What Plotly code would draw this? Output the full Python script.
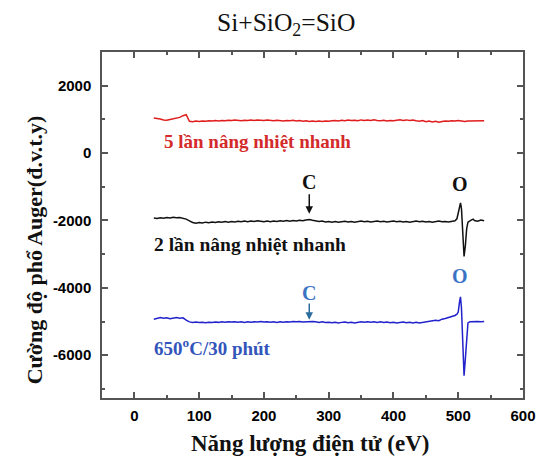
import plotly.graph_objects as go

# ---------------- data ----------------
E_RED = [30, 35, 40, 45, 50, 55, 60, 65, 70, 75,
         80, 85, 90, 95, 100, 105, 110, 115, 120, 125,
         130, 135, 140, 145, 150, 155, 160, 165, 170, 175,
         180, 185, 190, 195, 200, 205, 210, 215, 220, 225,
         230, 235, 240, 245, 250, 255, 260, 265, 270, 275,
         280, 285, 290, 295, 300, 305, 310, 315, 320, 325,
         330, 335, 340, 345, 350, 355, 360, 365, 370, 375,
         380, 385, 390, 395, 400, 405, 410, 415, 420, 425,
         430, 435, 440, 445, 450, 455, 460, 465, 470, 475,
         480, 485, 490, 495, 500, 505, 510, 515, 520, 525,
         530, 535, 540]
RED = [1040, 1030, 1010, 985, 975, 995, 1010, 1040, 1060, 1110,
       1140, 945, 930, 950, 940, 955, 945, 960, 950, 965,
       955, 970, 960, 975, 965, 980, 970, 960, 975, 965,
       980, 970, 985, 975, 965, 980, 970, 960, 975, 965,
       955, 970, 960, 975, 950, 965, 945, 960, 940, 955,
       935, 950, 940, 955, 945, 960, 970, 955, 975, 960,
       980, 965, 975, 960, 985, 970, 980, 965, 990, 970,
       960, 975, 955, 970, 960, 975, 990, 970, 985, 965,
       980, 960, 945, 965, 930, 950, 925, 945, 915, 940,
       955, 945, 960, 950, 965, 955, 940, 955, 960, 950,
       965, 955, 960]

E_PEAK = [30, 35, 40, 45, 50, 55, 60, 65, 70, 75,
          80, 85, 90, 95, 100, 105, 110, 115, 120, 125,
          130, 135, 140, 145, 150, 155, 160, 165, 170, 175,
          180, 185, 190, 195, 200, 205, 210, 215, 220, 225,
          230, 235, 240, 245, 250, 255, 260, 265, 270, 275,
          280, 285, 290, 295, 300, 305, 310, 315, 320, 325,
          330, 335, 340, 345, 350, 355, 360, 365, 370, 375,
          380, 385, 390, 395, 400, 405, 410, 415, 420, 425,
          430, 435, 440, 445, 450, 455, 460, 465, 470, 475,
          480, 485, 490, 495, 498, 500, 502, 503.5, 505, 507,
          509, 511, 513, 515, 518, 520, 523, 525, 530, 535,
          540]
BLACK = [-1930, -1945, -1920, -1935, -1915, -1930, -1905, -1920, -1910, -1925,
         -1960, -2010, -2060, -2080, -2060, -2075, -2050, -2065, -2045, -2060,
         -2040, -2055, -2035, -2050, -2030, -2045, -2025, -2040, -2020, -2035,
         -2015, -2030, -2010, -2025, -2040, -2020, -2035, -2015, -2030, -2010,
         -2025, -2005, -2020, -2000, -2015, -1995, -2010, -1985, -1975, -1995,
         -2010, -2030, -2015, -2045, -2030, -2050, -2035, -2055, -2040, -2025,
         -2045, -2030, -2050, -2035, -2020, -2040, -2025, -2045, -2030, -2020,
         -2040, -2025, -2045, -2030, -2020, -2040, -2025, -2045, -2030, -2050,
         -2035, -2020, -2040, -2025, -2045, -2030, -2050, -2035, -2020, -2040,
         -2030, -2045, -2030, -2010, -1950, -1780, -1560, -1480, -1650, -2400,
         -3070, -2750, -2250, -2050, -2000, -1990, -1960, -2000, -2020, -1990,
         -2010]
BLUE = [-4930, -4900, -4880, -4905, -4890, -4915, -4895, -4880, -4900, -4890,
        -4960, -5010, -5030, -5015, -5030, -5020, -5035, -5020, -5030, -5015,
        -5025, -5010, -5020, -5005, -5015, -5005, -5020, -5010, -5025, -5010,
        -5020, -5005, -5015, -5000, -5015, -5005, -5020, -5010, -5025, -5010,
        -5020, -5005, -5015, -5000, -5010, -5000, -5015, -5005, -4995, -5000,
        -5010, -5025, -5010, -5030, -5020, -5035, -5020, -5040, -5025, -5015,
        -5035, -5020, -5040, -5025, -5010, -5020, -5005, -5020, -5010, -5025,
        -5010, -5030, -5015, -5035, -5020, -5040, -5025, -5015, -5035, -5020,
        -5040, -5025, -5045, -5030, -5020, -5000, -4985, -4960, -4975, -4930,
        -4910, -4880, -4860, -4820, -4780, -4720, -4420, -4270, -4600, -5600,
        -6610, -6100, -5400, -5040, -5010, -5005, -5000, -5005, -5000, -5005,
        -5000]

X_TICKS = [0, 100, 200, 300, 400, 500, 600]
X_TICK_TEXT = ["0", "100", "200", "300", "400", "500", "600"]
Y_TICKS = [-6000, -4000, -2000, 0, 2000]
Y_TICK_TEXT = ["-6000", "-4000", "-2000", "0", "2000"]
X_RANGE = [-50, 600]
Y_RANGE = [-7270, 3000]

TITLE = "Si+SiO<sub>2</sub>=SiO"
X_TITLE = "Năng lượng điện tử (eV)"
Y_TITLE = "Cường độ phổ Auger(đ.v.t.y)"
LABEL_RED = "5 lần nâng nhiệt nhanh"
LABEL_BLACK = "2 lần nâng nhiệt nhanh"
LABEL_BLUE = "650<sup>o</sup>C/30 phút"

# ---------------- figure ----------------
SERIF = "Liberation Serif"
SANS = "Liberation Sans"

# plot area in window pixels (the page body adds an 8 px offset)
PL, PR, PT, PB = 102, 531, 52, 398
PW, PH = PR - PL, PB - PT

fig = go.Figure()
fig.add_trace(go.Scatter(x=E_RED, y=RED, mode="lines",
                         line=dict(color="#e01c1c", width=1.5), showlegend=False))
fig.add_trace(go.Scatter(x=E_PEAK, y=BLACK, mode="lines",
                         line=dict(color="#111111", width=1.5), showlegend=False))
fig.add_trace(go.Scatter(x=E_PEAK, y=BLUE, mode="lines",
                         line=dict(color="#2222cc", width=1.5), showlegend=False))

axis_common = dict(
    showline=True, linecolor="#555555", linewidth=1.5, mirror="ticks",
    ticks="inside", ticklen=6, tickwidth=1.5, tickcolor="#555555",
    showgrid=False, zeroline=False,
    tickfont=dict(family=SANS, size=15, color="#000000", weight="bold"),
)

fig.update_xaxes(range=X_RANGE, tickvals=X_TICKS, ticktext=X_TICK_TEXT,
                 ticklabelstandoff=3,
                 minor=dict(ticks="inside", dtick=50, ticklen=3, tickwidth=1.5,
                            tickcolor="#555555", showgrid=False),
                 **axis_common)
fig.update_yaxes(range=Y_RANGE, tickvals=Y_TICKS, ticktext=Y_TICK_TEXT,
                 ticklabelstandoff=6,
                 minor=dict(ticks="inside", dtick=1000, ticklen=3, tickwidth=1.5,
                            tickcolor="#555555", showgrid=False),
                 **axis_common)


def px_x(px):
    return (px - PL) / PW


def px_y(py):
    return (PB - py) / PH


ann = []
# title
ann.append(dict(text=TITLE, xref="paper", yref="paper", x=px_x(290), y=px_y(24),
                showarrow=False, xanchor="center", yanchor="middle",
                font=dict(family=SERIF, size=25.5, color="#111111")))
# axis titles
ann.append(dict(text=X_TITLE, xref="paper", yref="paper", x=px_x(314), y=px_y(443),
                showarrow=False, xanchor="center", yanchor="middle",
                font=dict(family=SERIF, size=23, color="#111111", weight="bold")))
ann.append(dict(text=Y_TITLE, xref="paper", yref="paper", x=px_x(33), y=px_y(250),
                showarrow=False, xanchor="center", yanchor="middle", textangle=-90,
                font=dict(family=SERIF, size=22, color="#111111", weight="bold")))
# series labels
ann.append(dict(text=LABEL_RED, x=43, y=330, xanchor="left", yanchor="middle", showarrow=False,
                font=dict(family=SERIF, size=19, color="#d42a2a", weight="bold")))
ann.append(dict(text=LABEL_BLACK, x=27, y=-2700, xanchor="left", yanchor="middle", showarrow=False,
                font=dict(family=SERIF, size=19.5, color="#111111", weight="bold")))
ann.append(dict(text=LABEL_BLUE, x=27, y=-5750, xanchor="left", yanchor="middle", showarrow=False,
                font=dict(family=SERIF, size=19, color="#3355bb", weight="bold")))
# C and O markers
ann.append(dict(text="C", x=270, y=-850, showarrow=False, xanchor="center", yanchor="middle",
                font=dict(family=SERIF, size=20, color="#111111", weight="bold")))
ann.append(dict(text="", x=270, y=-1800, ax=270, ay=-1180, axref="x", ayref="y",
                showarrow=True, arrowhead=2, arrowsize=1, arrowwidth=1.5, arrowcolor="#111111"))
ann.append(dict(text="C", x=270, y=-4150, showarrow=False, xanchor="center", yanchor="middle",
                font=dict(family=SERIF, size=20, color="#3b73c4", weight="bold")))
ann.append(dict(text="", x=270, y=-4950, ax=270, ay=-4420, axref="x", ayref="y",
                showarrow=True, arrowhead=2, arrowsize=1, arrowwidth=1.5, arrowcolor="#2b6e9e"))
ann.append(dict(text="O", x=503, y=-930, showarrow=False, xanchor="center", yanchor="middle",
                font=dict(family=SERIF, size=20, color="#111111", weight="bold")))
ann.append(dict(text="O", x=503, y=-3650, showarrow=False, xanchor="center", yanchor="middle",
                font=dict(family=SERIF, size=20, color="#3b73c4", weight="bold")))

fig.update_layout(
    width=540, height=454,
    margin=dict(l=PL - 8, r=548 - PR, t=PT - 8, b=462 - PB),
    paper_bgcolor="white", plot_bgcolor="white",
    annotations=ann,
    showlegend=False,
)

fig.write_html("out.html")
